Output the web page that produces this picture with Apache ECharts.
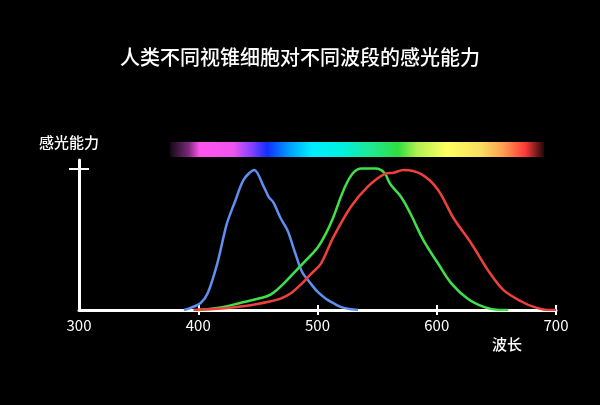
<!DOCTYPE html>
<html>
<head>
<meta charset="utf-8">
<script src="https://cdn.jsdelivr.net/npm/echarts@6/dist/echarts.min.js"></script>
<style>
  html, body { margin: 0; padding: 0; background: #000; }
  #chart { width: 600px; height: 405px; }
</style>
</head>
<body>
<div id="chart"></div>
<script>
// 横轴：波长 (nm)
var xTicks = [400, 500, 600, 700];
var yTicks = [1];

// 三种视锥细胞的相对感光能力 [波长, 值]
var blueCone = [
  [388, 0], [392, 0.01], [402, 0.05], [408, 0.12], [416, 0.33], [424, 0.61],
  [431, 0.77], [438, 0.92], [447, 0.99], [455, 0.87], [459, 0.8], [463, 0.76],
  [469, 0.65], [475, 0.56], [481, 0.41], [487, 0.27], [494, 0.19], [500, 0.13],
  [507, 0.08], [513, 0.05], [520, 0.02], [528, 0.005], [534, 0]
];
var greenCone = [
  [400, 0], [420, 0.02], [435, 0.05], [450, 0.08], [461, 0.11], [472, 0.19],
  [480, 0.26], [489, 0.34], [500, 0.44], [507, 0.54], [513, 0.65], [522, 0.85],
  [530, 0.97], [537, 1.0], [549, 1.0], [556, 0.97], [561, 0.89], [570, 0.8],
  [578, 0.68], [589, 0.49], [601, 0.33], [612, 0.19], [626, 0.08], [640, 0.02],
  [652, 0], [660, 0]
];
var redCone = [
  [396, 0], [420, 0.01], [441, 0.03], [460, 0.06], [469, 0.08], [478, 0.12],
  [486, 0.18], [494, 0.25], [503, 0.33], [513, 0.51], [528, 0.73], [542, 0.87],
  [556, 0.96], [564, 0.97], [572, 0.99], [587, 0.96], [601, 0.85], [614, 0.65],
  [629, 0.47], [643, 0.28], [656, 0.14], [671, 0.06], [682, 0.02], [693, 0], [700, 0]
];

var chart = echarts.init(document.getElementById('chart'));
var white = '#ffffff';
var font = '"Noto Sans CJK SC", "Noto Sans", sans-serif';

chart.setOption({
  backgroundColor: '#000',
  animation: false,
  title: {
    text: '人类不同视锥细胞对不同波段的感光能力',
    left: 'center',
    top: 42,
    textStyle: { color: white, fontSize: 20, fontWeight: 500, fontFamily: font }
  },
  graphic: [
    {
      type: 'rect',
      shape: { x: 170, y: 142, width: 374, height: 15 },
      style: {
        fill: new echarts.graphic.LinearGradient(0, 0, 1, 0, [
          { offset: 0, color: '#140814' },
          { offset: 0.05, color: '#7a2a7a' },
          { offset: 0.08, color: '#ff55ee' },
          { offset: 0.17, color: '#ee55ee' },
          { offset: 0.22, color: '#8040ff' },
          { offset: 0.26, color: '#1030ff' },
          { offset: 0.32, color: '#00a0ff' },
          { offset: 0.38, color: '#00eeff' },
          { offset: 0.46, color: '#00f0e0' },
          { offset: 0.54, color: '#20e890' },
          { offset: 0.61, color: '#30dd40' },
          { offset: 0.66, color: '#b0f050' },
          { offset: 0.74, color: '#ffff60' },
          { offset: 0.83, color: '#f8e060' },
          { offset: 0.89, color: '#ffa050' },
          { offset: 0.95, color: '#ff3838' },
          { offset: 1, color: '#200808' }
        ])
      }
    },
    {
      type: 'text',
      left: 39, top: 135,
      style: { text: '感光能力', fill: white, font: '500 15px ' + font }
    },
    {
      type: 'text',
      left: 492, top: 337,
      style: { text: '波长', fill: white, font: '500 15px ' + font }
    }
  ],
  grid: { left: 79, right: 44, top: 160, bottom: 95 },
  xAxis: [
    {
      type: 'value', min: 300, max: 700, interval: 100,
      splitLine: { show: false },
      axisLine: { lineStyle: { color: white, width: 3 } },
      axisTick: { customValues: xTicks, length: 5, lineStyle: { color: white, width: 2 } },
      axisLabel: { color: white, fontSize: 15, margin: 8, fontFamily: font }
    },
    {
      type: 'value', min: 300, max: 700, position: 'bottom',
      splitLine: { show: false },
      axisLine: { show: false },
      axisTick: { customValues: xTicks, inside: true, length: 5, lineStyle: { color: white, width: 2 } },
      axisLabel: { show: false }
    }
  ],
  yAxis: [
    {
      type: 'value', min: 0, max: 1.06,
      splitLine: { show: false },
      axisLine: { lineStyle: { color: white, width: 3 } },
      axisTick: { customValues: yTicks, length: 10, lineStyle: { color: white, width: 2 } },
      axisLabel: { show: false }
    },
    {
      type: 'value', min: 0, max: 1.06, position: 'left',
      splitLine: { show: false },
      axisLine: { show: false },
      axisTick: { customValues: yTicks, inside: true, length: 10, lineStyle: { color: white, width: 2 } },
      axisLabel: { show: false }
    }
  ],
  series: [
    { type: 'line', data: blueCone, smooth: 0.3, symbol: 'none', lineStyle: { color: '#5f8ff0', width: 2.5 }, z: 3 },
    { type: 'line', data: greenCone, smooth: 0.4, symbol: 'none', lineStyle: { color: '#3fe04a', width: 2.5 }, z: 3 },
    { type: 'line', data: redCone, smooth: 0.3, symbol: 'none', lineStyle: { color: '#f0403c', width: 2.5 }, z: 3 }
  ]
});
</script>
</body>
</html>
